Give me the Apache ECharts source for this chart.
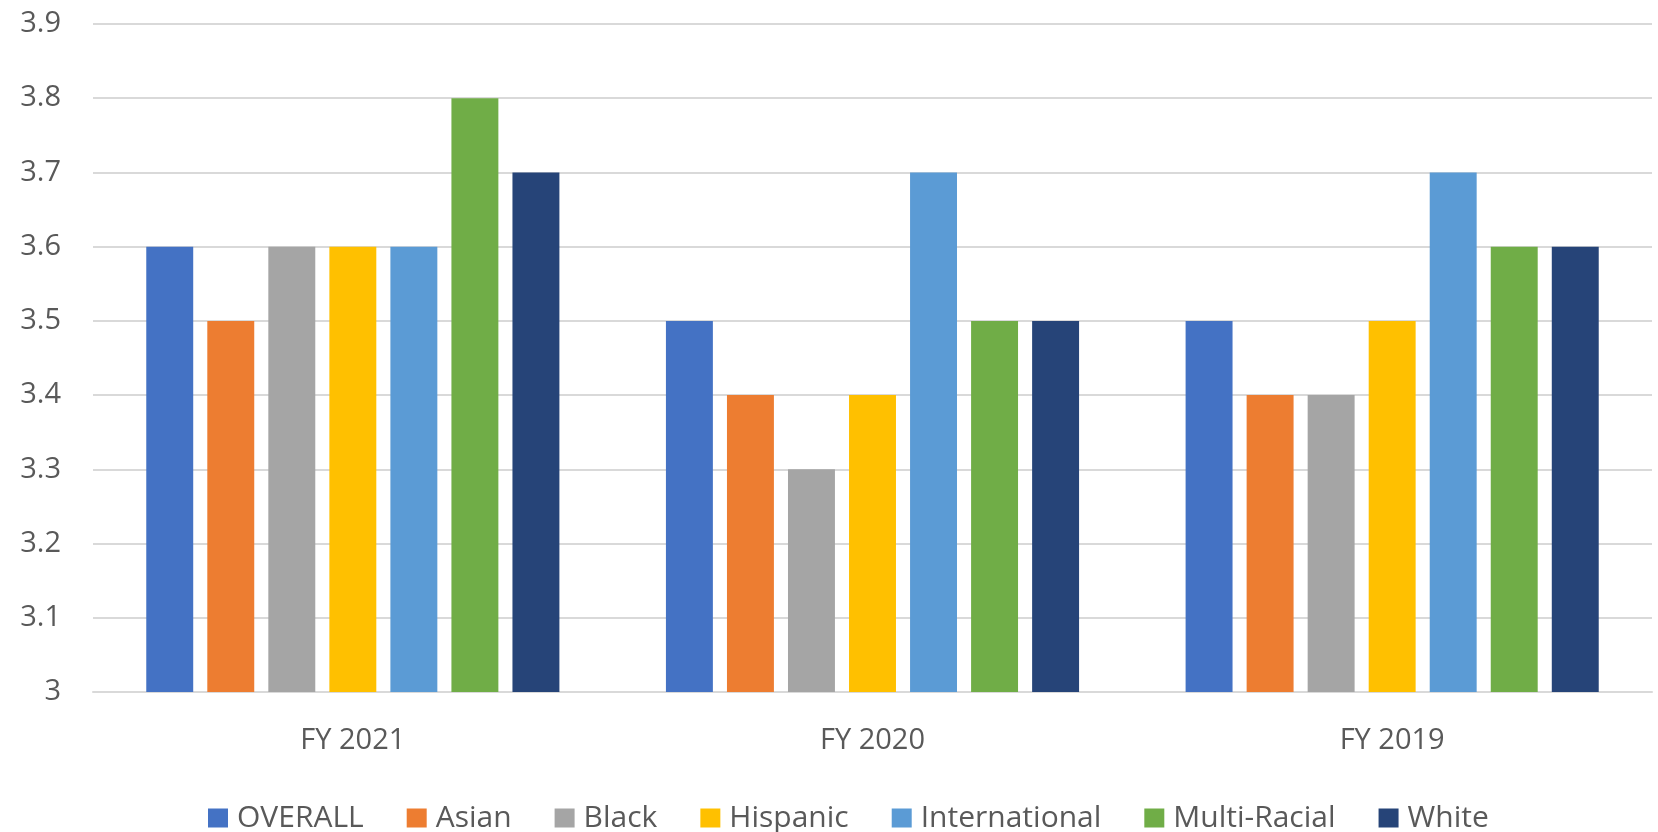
<!DOCTYPE html>
<html>
<head>
<meta charset="utf-8">
<script src="https://cdn.jsdelivr.net/npm/echarts@6/dist/echarts.min.js"></script>
<style>
  html, body { margin: 0; padding: 0; background: #ffffff; }
  #chart { width: 1658px; height: 832px; }
</style>
</head>
<body>
<div id="chart"></div>
<script>
const categories = ['FY 2021', 'FY 2020', 'FY 2019'];
const seriesNames = ['OVERALL', 'Asian', 'Black', 'Hispanic', 'International', 'Multi-Racial', 'White'];
const overall = [3.6, 3.5, 3.5];
const asian = [3.5, 3.4, 3.4];
const black = [3.6, 3.3, 3.4];
const hispanic = [3.6, 3.4, 3.5];
const international = [3.6, 3.7, 3.7];
const multiRacial = [3.8, 3.5, 3.6];
const white = [3.7, 3.5, 3.6];
const colors = ['#4472C4', '#ED7D31', '#A5A5A5', '#FFC000', '#5B9BD5', '#70AD47', '#264478'];

const values = [overall, asian, black, hispanic, international, multiRacial, white];
const font = '"Open Sans", "Liberation Sans", sans-serif';

const chart = echarts.init(document.getElementById('chart'), null, { renderer: 'canvas' });
chart.setOption({
  animation: false,
  backgroundColor: '#ffffff',
  color: colors,
  grid: { left: 93, right: 6, top: 24, bottom: 140, containLabel: false },
  legend: {
    data: seriesNames,
    left: 203,
    top: 798,
    itemWidth: 20,
    itemHeight: 19,
    itemGap: 43,
    icon: 'rect',
    textStyle: { fontFamily: font, fontSize: 30, color: '#595959', padding: [0, 0, 0, 4] }
  },
  xAxis: {
    type: 'category',
    data: categories,
    axisLine: { show: true, lineStyle: { color: '#d9d9d9', width: 2 } },
    axisTick: { show: false },
    axisLabel: { fontFamily: font, fontSize: 29, color: '#595959', margin: 34 }
  },
  yAxis: {
    type: 'value',
    min: 3,
    max: 3.9,
    interval: 0.1,
    axisLine: { show: false },
    axisTick: { show: false },
    splitLine: { show: true, lineStyle: { color: '#d9d9d9', width: 2 } },
    axisLabel: {
      fontFamily: font, fontSize: 29, color: '#595959', margin: 32,
      formatter: v => String(Math.round(v * 10) / 10)
    }
  },
  series: seriesNames.map((name, i) => ({
    name: name,
    type: 'bar',
    data: values[i],
    barGap: '30%',
    barCategoryGap: '20.5%',
    itemStyle: { color: colors[i] }
  }))
});
</script>
</body>
</html>
